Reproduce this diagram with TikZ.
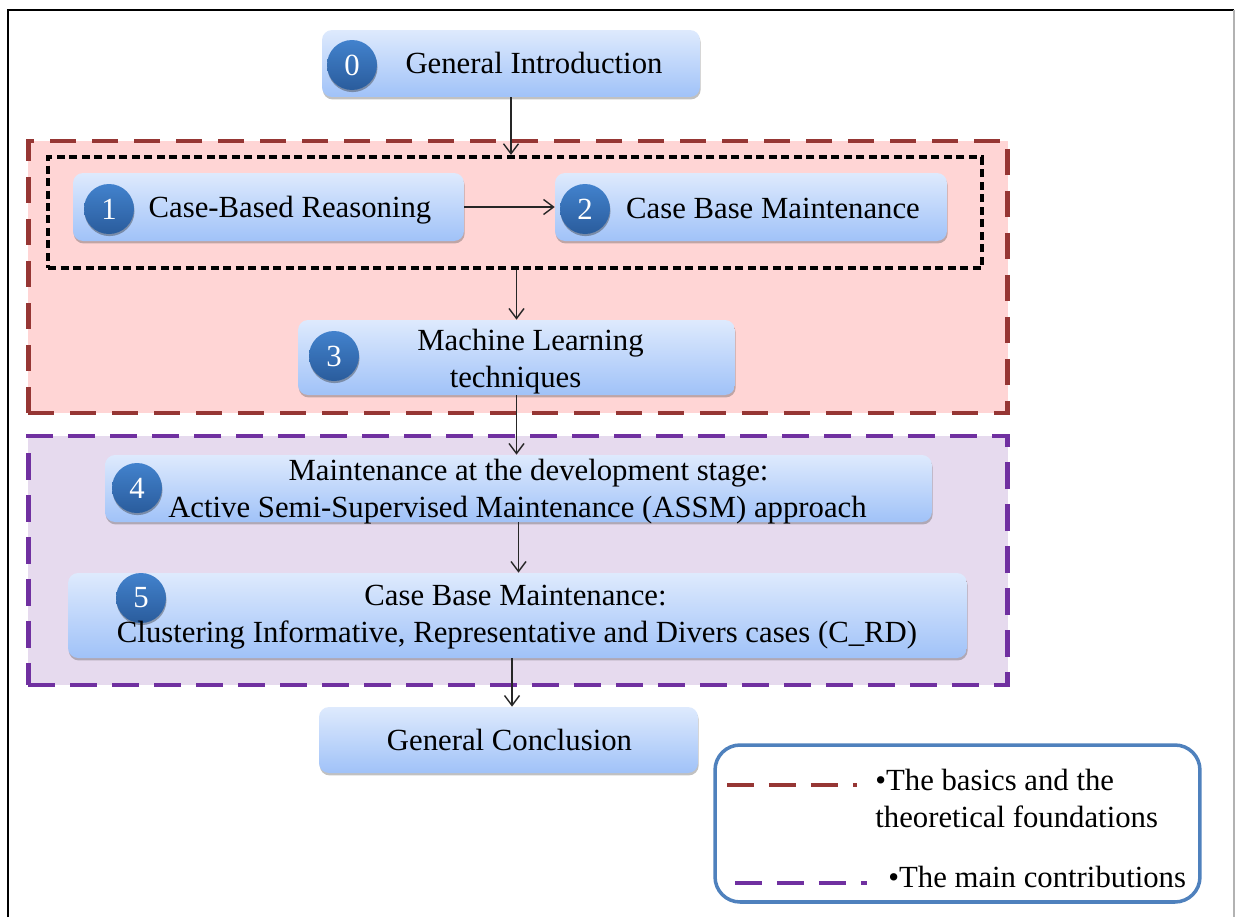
\documentclass[tikz,border=0pt]{standalone}
\usepackage{fontspec}
\setmainfont{Liberation Serif}
\usetikzlibrary{arrows.meta,shadows}

\definecolor{redfill}{RGB}{255,213,213}
\definecolor{redline}{RGB}{150,54,52}
\definecolor{purplefill}{RGB}{230,218,238}
\definecolor{purpleline}{RGB}{112,48,160}
\definecolor{boxtop}{RGB}{222,234,253}
\definecolor{boxbot}{RGB}{160,194,248}
\definecolor{balltop}{RGB}{66,130,205}
\definecolor{ballbot}{RGB}{42,92,156}
\definecolor{legblue}{RGB}{79,129,189}

\begin{document}
\begin{tikzpicture}[x=0.02cm, y=-0.02cm,
  font=\fontsize{17.5}{21}\selectfont,
  stepbox/.style={rounded corners=0.2cm, top color=boxtop, bottom color=boxbot,
    draw=none, inner sep=0pt,
    drop shadow={shadow xshift=0.4pt, shadow yshift=-1.4pt, opacity=0.35, fill=black!70}},
  numball/.style={circle, minimum size=1cm, inner sep=0pt, top color=balltop,
    bottom color=ballbot, draw=none, text=white,
    drop shadow={shadow xshift=0.3pt, shadow yshift=-1.2pt, opacity=0.4, fill=black!80}},
  lbl/.style={inner sep=0pt, anchor=base},
  lblw/.style={inner sep=0pt, anchor=base west},
  redzone/.style={draw=redline, fill=redfill, line width=2.8pt, inner sep=0pt,
    dash pattern=on 0.52cm off 0.32cm},
  purplezone/.style={draw=purpleline, fill=purplefill, line width=2.8pt, inner sep=0pt,
    dash pattern=on 0.54cm off 0.3cm},
  blackzone/.style={draw=black, line width=2.4pt, inner sep=0pt,
    dash pattern=on 0.16cm off 0.09cm},
  arr/.style={draw=black!85, line width=0.8pt,
    -{Straight Barb[length=0.2cm,width=0.3cm]}},
  legred/.style={draw=redline, line width=2.5pt, dash pattern=on 0.54cm off 0.3cm},
  legpurple/.style={draw=purpleline, line width=2.5pt, dash pattern=on 0.54cm off 0.3cm},
]
\useasboundingbox (0,0) rectangle (1235,917);

% page frame
\draw[black, line width=1pt] (8,917) -- (8,10) -- (1234,10);
\draw[black!30, line width=1pt] (1234,10) -- (1234,917);

% grouping zones
\node[redzone, minimum width=19.6cm, minimum height=5.44cm] (basics) at (518,277) {};
\node[purplezone, minimum width=19.6cm, minimum height=4.98cm] (contrib) at (518,560.5) {};
\node[blackzone, minimum width=18.68cm, minimum height=2.22cm] (cbr) at (515,212.5) {};

% chapter boxes
\node[stepbox, minimum width=7.56cm, minimum height=1.34cm] (n0) at (511,63.5) {};
\node[stepbox, minimum width=7.82cm, minimum height=1.36cm] (n1) at (268.5,207) {};
\node[stepbox, minimum width=7.84cm, minimum height=1.36cm] (n2) at (751,207) {};
\node[stepbox, minimum width=8.74cm, minimum height=1.5cm] (n3) at (516.5,357.5) {};
\node[stepbox, minimum width=16.54cm, minimum height=1.34cm] (n4) at (518.5,488.5) {};
\node[stepbox, minimum width=17.98cm, minimum height=1.7cm] (n5) at (517.5,615.5) {};
\node[stepbox, minimum width=7.58cm, minimum height=1.32cm] (nc) at (508.5,740) {};

% chapter numbers
\node[numball] (c0) at (352,65) {0};
\node[numball] (c1) at (109,209) {1};
\node[numball] (c2) at (585,209) {2};
\node[numball] (c3) at (334,356) {3};
\node[numball] (c4) at (137,488) {4};
\node[numball] (c5) at (141,598) {5};

% chapter titles
\node[lbl] (t0) at (534,73) {General Introduction};
\node[lbl] (t1) at (290,217) {Case-Based Reasoning};
\node[lbl] (t2) at (773,218) {Case Base Maintenance};
\node[lbl] (t3a) at (530.5,350) {Machine Learning};
\node[lbl] (t3b) at (515.5,387) {techniques};
\node[lbl] (t4a) at (528.5,480) {Maintenance at the development stage:};
\node[lbl] (t4b) at (517.5,517) {Active Semi-Supervised Maintenance (ASSM) approach};
\node[lbl] (t5a) at (515.5,605) {Case Base Maintenance:};
\node[lbl] (t5b) at (517,642) {Clustering Informative, Representative and Divers cases (C\_RD)};
\node[lbl] (tc) at (509.5,750) {General Conclusion};

% flow
\draw[arr] (n0.south) -- (n0.south |- cbr.north);
\draw[arr] (n1.east) -- (n2.west);
\draw[arr] (n3.north |- cbr.south) -- (n3.north);
\draw[arr] (n3.south) -- (n3.south |- n4.north);
\draw[arr] (n4.south) -- (n4.south |- n5.north);
\draw[arr] ([xshift=0.07cm]nc.north |- n5.south) -- ([xshift=0.07cm]nc.north);

% legend
\node[draw=legblue, line width=2pt, rounded corners=0.5cm, inner sep=0pt,
  minimum width=9.7cm, minimum height=3.14cm] (legend) at (957.5,823.5) {};
\coordinate (lr1) at (727,785);
\coordinate (lr2) at (857,785);
\coordinate (lp1) at (735,883);
\coordinate (lp2) at (867,883);
\draw[legred] (lr1) -- (lr2);
\draw[legpurple] (lp1) -- (lp2);
\node[lblw] (l1a) at (875,790) {•The basics and the};
\node[lblw] (l1b) at (875,827) {theoretical foundations};
\node[lblw] (l2) at (888,887) {•The main contributions};
\end{tikzpicture}
\end{document}
